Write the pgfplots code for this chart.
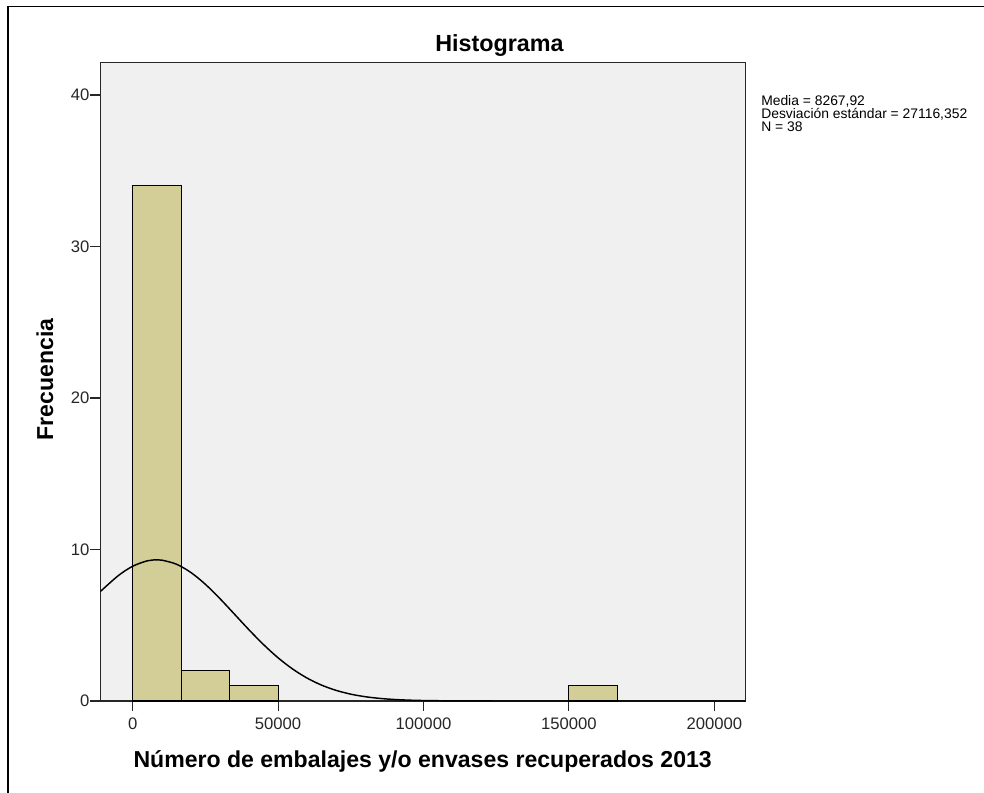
\documentclass[border=0pt]{standalone}
\usepackage{pgfplots}
\pgfplotsset{compat=1.18}
\usepackage{fontspec}
\setmainfont{Liberation Sans}
\definecolor{barfill}{RGB}{211,206,151}
\definecolor{plotbg}{RGB}{240,240,240}
\begin{document}
\begin{tikzpicture}[x=1pt,y=1pt]
\useasboundingbox (0,0) rectangle (738,594);
\draw[line width=1.2pt] (6,-2) -- (6,589) -- (740,589);
\begin{axis}[
  at={(75.2pt,68.25pt)}, anchor=south west,
  scale only axis, width=484pt, height=478.7pt,
  xmin=-11140, xmax=210750, ymin=0, ymax=42.13,
  axis background/.style={fill=plotbg},
  xtick={0,50000,100000,150000,200000},
  ytick={0,10,20,30,40},
  scaled x ticks=false, scaled y ticks=false,
  xtick pos=bottom, ytick pos=left,
  tick align=outside,
  major tick length=7.5pt,
  tick style={black!85, line width=0.8pt},
  axis line style={black!85, line width=0.8pt},
  /pgf/number format/fixed,
  /pgf/number format/precision=0,
  /pgf/number format/assume math mode=true,
  /pgf/number format/1000 sep={},
  ticklabel style={font=\fontsize{12.5}{14}\selectfont, text=black!85},
  yticklabel style={inner xsep=0.5pt},
  xticklabel style={yshift=-1.5pt},
  clip=true,
]
\addplot[ybar interval, fill=barfill, draw=black, line width=0.8pt]
  coordinates {(0,34) (16666.67,2) (33333.33,1) (50000,0)};
\addplot[ybar interval, fill=barfill, draw=black, line width=0.8pt]
  coordinates {(150000,1) (166666.67,1)};
\addplot[smooth, black, line width=1.1pt] coordinates {
  (-11140,7.22) (-5000,8.267) (0,8.895) (5000,9.251) (8268,9.318)
  (10000,9.299) (15000,9.035) (20000,8.485) (25000,7.703) (30000,6.758)
  (35000,5.732) (40000,4.698) (45000,3.723) (50000,2.851) (55000,2.111)
  (60000,1.510) (65000,1.044) (70000,0.698) (75000,0.451) (80000,0.282)
  (85000,0.170) (90000,0.099) (95000,0.056) (100000,0.031) (110000,0.008)
  (120000,0.002) (130000,0.0004) (140000,0.0001) (150000,0) (170000,0)
  (190000,0) (210750,0)
};
\end{axis}
\node[anchor=base, font=\bfseries\fontsize{17.5}{20}\selectfont] at (374.6,555.2) {Histograma};
\node[anchor=base, font=\bfseries\fontsize{17.3}{20}\selectfont] at (317,18.5) {Número de embalajes y/o envases recuperados 2013};
\node[anchor=base, rotate=90, font=\bfseries\fontsize{17.3}{20}\selectfont] at (39.75,309.4) {Frecuencia};
\node[anchor=base west, inner sep=0pt, font=\fontsize{10.4}{11}\selectfont] at (570.75,515.0) {Media = 8267,92};
\node[anchor=base west, inner sep=0pt, font=\fontsize{10.4}{11}\selectfont] at (570.75,505.0) {Desviación estándar = 27116,352};
\node[anchor=base west, inner sep=0pt, font=\fontsize{10.4}{11}\selectfont] at (570.75,495.0) {N = 38};
\end{tikzpicture}
\end{document}
